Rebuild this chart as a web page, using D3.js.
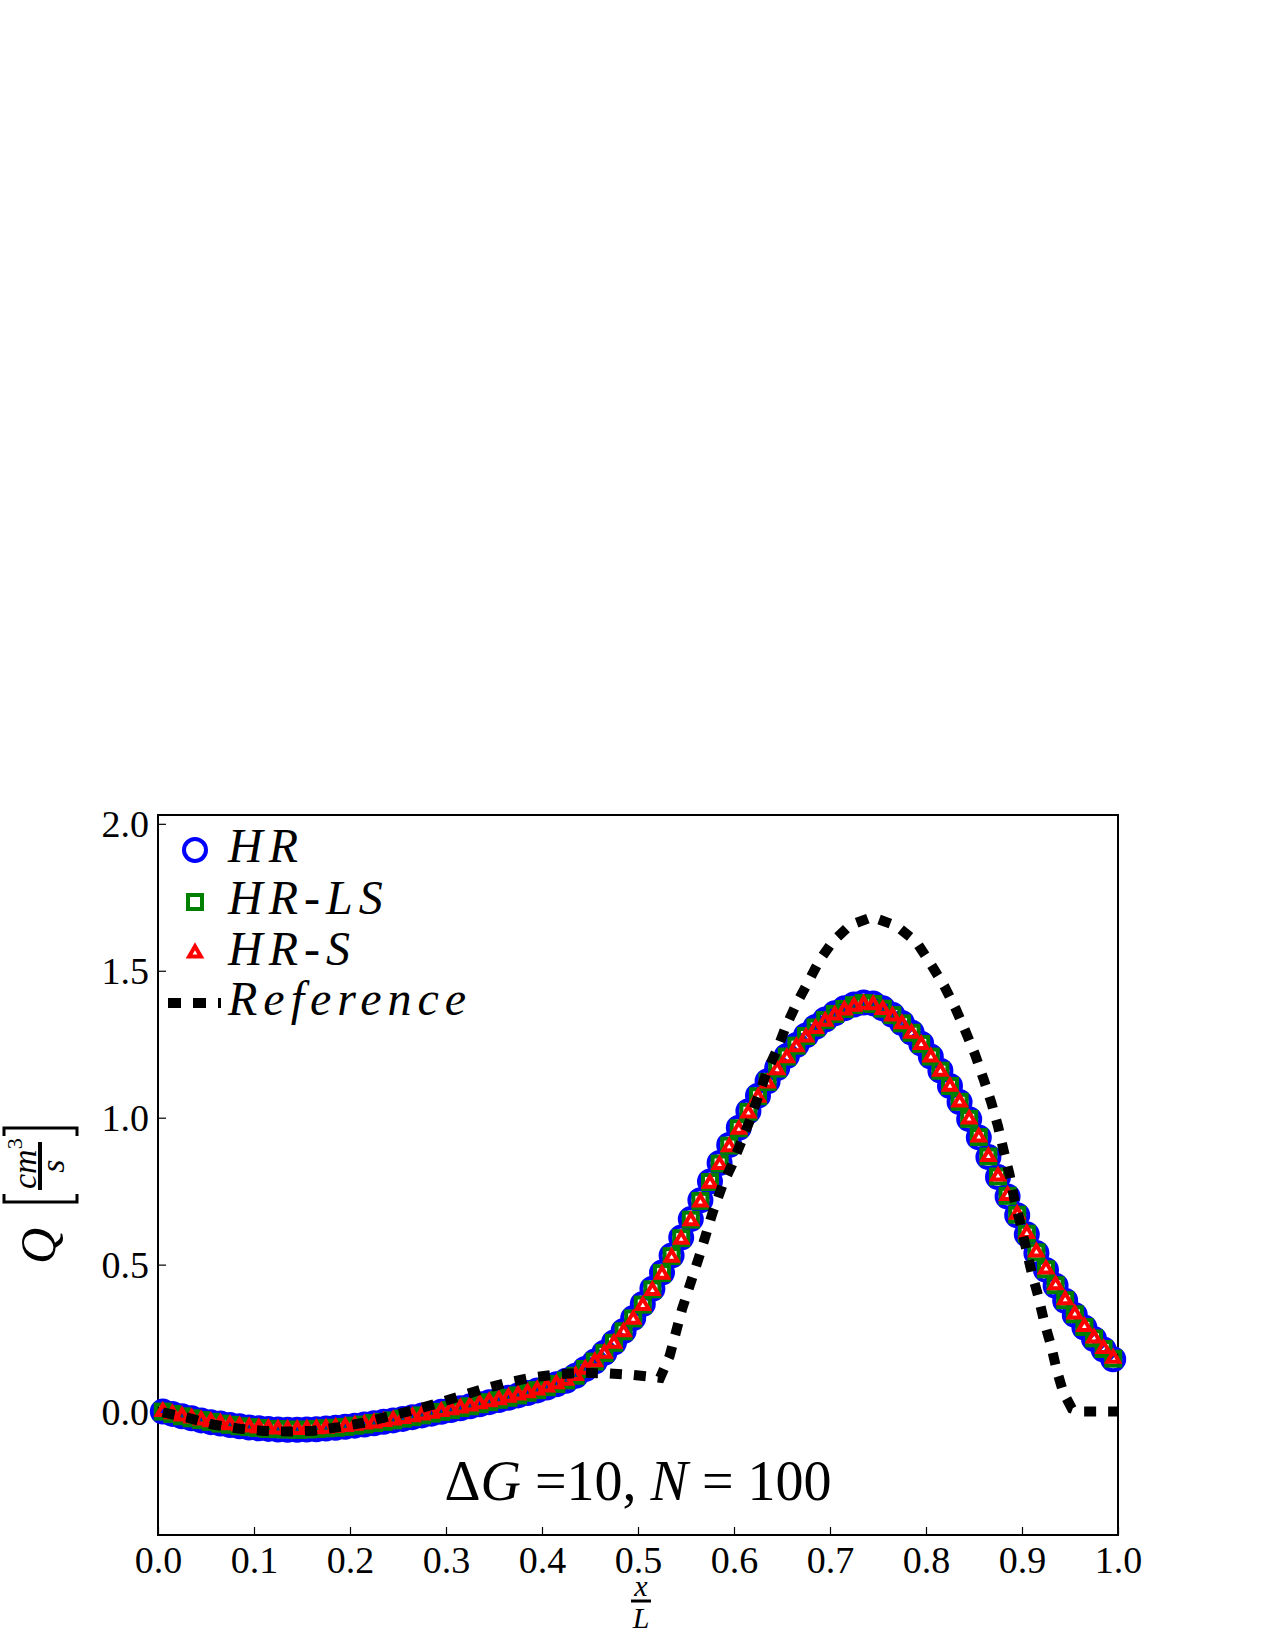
<!DOCTYPE html>
<html>
<head>
<meta charset="utf-8">
<script src="https://cdn.jsdelivr.net/npm/d3@7"></script>
<style>
  body { margin: 0; background: #fff; }
  svg text { font-family: "Liberation Serif", "DejaVu Serif", serif; fill: #000; }
</style>
</head>
<body>
<svg id="chart" width="1275" height="1650"></svg>
<script>
//Data (N = 100 cells, values at cell centres)
var nCells = 100;
var xTicks = [0.0, 0.1, 0.2, 0.3, 0.4, 0.5, 0.6, 0.7, 0.8, 0.9, 1.0];
var yTicks = [0.0, 0.5, 1.0, 1.5, 2.0];
var seriesNames = ["HR", "HR-LS", "HR-S", "Reference"];

var hrQ = [
  0.000, -0.008, -0.016, -0.023, -0.030, -0.036, -0.041, -0.046, -0.050, -0.054,
  -0.057, -0.059, -0.061, -0.062, -0.062, -0.061, -0.060, -0.058, -0.055, -0.052,
  -0.048, -0.044, -0.040, -0.035, -0.030, -0.025, -0.019, -0.013, -0.007, -0.001,
  0.005, 0.011, 0.018, 0.025, 0.032, 0.039, 0.047, 0.055, 0.063, 0.072,
  0.082, 0.093, 0.105, 0.122, 0.145, 0.170, 0.200, 0.235, 0.274, 0.318,
  0.366, 0.418, 0.473, 0.531, 0.592, 0.655, 0.719, 0.783, 0.846, 0.907,
  0.966, 1.022, 1.075, 1.124, 1.169, 1.210, 1.247, 1.280, 1.309, 1.334,
  1.355, 1.372, 1.385, 1.392, 1.389, 1.372, 1.350, 1.322, 1.290, 1.252,
  1.208, 1.160, 1.108, 1.053, 0.995, 0.933, 0.866, 0.798, 0.732, 0.668,
  0.603, 0.540, 0.482, 0.428, 0.377, 0.329, 0.286, 0.247, 0.211, 0.178
];
var hrLsQ = [
  0.000, -0.008, -0.016, -0.023, -0.029, -0.035, -0.041, -0.045, -0.050, -0.053,
  -0.056, -0.059, -0.060, -0.061, -0.062, -0.061, -0.059, -0.057, -0.055, -0.052,
  -0.048, -0.044, -0.039, -0.035, -0.030, -0.024, -0.019, -0.013, -0.007, -0.001,
  0.005, 0.012, 0.018, 0.025, 0.032, 0.040, 0.047, 0.055, 0.064, 0.073,
  0.083, 0.094, 0.106, 0.122, 0.145, 0.170, 0.199, 0.234, 0.273, 0.317,
  0.364, 0.416, 0.471, 0.529, 0.590, 0.653, 0.717, 0.781, 0.844, 0.905,
  0.964, 1.020, 1.073, 1.122, 1.167, 1.208, 1.245, 1.278, 1.307, 1.332,
  1.353, 1.370, 1.383, 1.390, 1.387, 1.371, 1.349, 1.321, 1.289, 1.251,
  1.208, 1.160, 1.108, 1.054, 0.996, 0.934, 0.868, 0.800, 0.734, 0.670,
  0.605, 0.542, 0.484, 0.430, 0.379, 0.331, 0.288, 0.249, 0.213, 0.180
];
var hrSQ = [
  0.000, -0.008, -0.015, -0.022, -0.029, -0.035, -0.040, -0.045, -0.049, -0.053,
  -0.056, -0.058, -0.060, -0.061, -0.061, -0.060, -0.059, -0.057, -0.054, -0.051,
  -0.047, -0.043, -0.039, -0.034, -0.029, -0.024, -0.018, -0.012, -0.006, 0.000,
  0.006, 0.012, 0.019, 0.026, 0.033, 0.040, 0.048, 0.056, 0.064, 0.073,
  0.083, 0.094, 0.106, 0.122, 0.144, 0.169, 0.198, 0.232, 0.271, 0.314,
  0.361, 0.412, 0.467, 0.525, 0.586, 0.649, 0.713, 0.777, 0.840, 0.901,
  0.960, 1.016, 1.069, 1.118, 1.163, 1.204, 1.241, 1.274, 1.303, 1.328,
  1.349, 1.366, 1.379, 1.386, 1.384, 1.368, 1.346, 1.319, 1.287, 1.249,
  1.206, 1.158, 1.107, 1.053, 0.995, 0.934, 0.868, 0.801, 0.735, 0.671,
  0.606, 0.543, 0.485, 0.431, 0.380, 0.332, 0.289, 0.250, 0.214, 0.181
];

var refX = [0.005, 0.030, 0.057, 0.084, 0.110, 0.136, 0.162, 0.188, 0.214, 0.238,
  0.264, 0.290, 0.314, 0.340, 0.364, 0.390, 0.416, 0.442, 0.468, 0.494,
  0.515, 0.523, 0.533, 0.546, 0.564, 0.578, 0.588, 0.598, 0.617, 0.634,
  0.645, 0.654, 0.665, 0.677, 0.689, 0.703, 0.721, 0.744, 0.769, 0.790,
  0.805, 0.819, 0.831, 0.841, 0.851, 0.860, 0.868, 0.875, 0.881, 0.887,
  0.892, 0.898, 0.904, 0.910, 0.917, 0.923, 0.930, 0.936, 0.943, 0.952,
  0.960, 1.000];
var refQ = [-0.003, -0.020, -0.044, -0.058, -0.066, -0.068, -0.065, -0.053, -0.038, -0.018,
  0.003, 0.027, 0.052, 0.078, 0.099, 0.116, 0.127, 0.132, 0.130, 0.125,
  0.118, 0.115, 0.190, 0.350, 0.530, 0.680, 0.770, 0.840, 0.995, 1.155,
  1.233, 1.310, 1.387, 1.460, 1.535, 1.600, 1.655, 1.683, 1.653, 1.598,
  1.523, 1.448, 1.370, 1.295, 1.216, 1.131, 1.052, 0.971, 0.886, 0.807,
  0.722, 0.644, 0.559, 0.474, 0.392, 0.307, 0.228, 0.143, 0.065, 0.010,
  0.000, 0.000];

//cell centres of the N = 100 grid
var cellX = d3.range(nCells).map(function(i) { return (i + 0.5) / nCells; });

var svg = d3.select("#chart");
var plotLeft = 158, plotRight = 1118, plotTop = 815, plotBottom = 1535;
var xScale = d3.scaleLinear().domain([0, 1]).range([plotLeft, plotRight]);
var yScale = d3.scaleLinear().domain([-0.42, 2.03]).range([plotBottom, plotTop]);

function drawAxes() {
    var xAxis = d3.axisBottom(xScale).tickValues(xTicks).tickSizeInner(-8).tickSizeOuter(0)
        .tickFormat(d3.format(".1f"));
    var gx = svg.append("g").attr("transform", "translate(0," + plotBottom + ")").call(xAxis);
    gx.select(".domain").remove();
    gx.selectAll("line").attr("stroke", "#000").attr("stroke-width", 1.2);
    gx.selectAll("text").attr("y", 38).attr("dy", 0).attr("font-size", 38)
        .style("font-family", "'Liberation Serif', serif");

    var yAxis = d3.axisLeft(yScale).tickValues(yTicks).tickSizeInner(-8).tickSizeOuter(0)
        .tickFormat(d3.format(".1f"));
    var gy = svg.append("g").attr("transform", "translate(" + plotLeft + ",0)").call(yAxis);
    gy.select(".domain").remove();
    gy.selectAll("line").attr("stroke", "#000").attr("stroke-width", 1.2);
    gy.selectAll("text").attr("x", -9).attr("dy", "0.34em").attr("font-size", 38)
        .style("font-family", "'Liberation Serif', serif");

    svg.append("rect").attr("x", plotLeft).attr("y", plotTop)
        .attr("width", plotRight - plotLeft).attr("height", plotBottom - plotTop)
        .attr("fill", "none").attr("stroke", "#000").attr("stroke-width", 2);
}

function drawSeries() {
    var plot = svg.append("g");

    plot.selectAll("circle.hr").data(hrQ).enter().append("circle")
        .attr("class", "hr")
        .attr("cx", function(d, i) { return xScale(cellX[i]); })
        .attr("cy", function(d) { return yScale(d); })
        .attr("r", 11).attr("fill", "none").attr("stroke", "#0000ff").attr("stroke-width", 4);

    plot.selectAll("rect.hrls").data(hrLsQ).enter().append("rect")
        .attr("class", "hrls")
        .attr("x", function(d, i) { return xScale(cellX[i]) - 7; })
        .attr("y", function(d) { return yScale(d) - 7; })
        .attr("width", 14).attr("height", 14)
        .attr("fill", "none").attr("stroke", "#008000").attr("stroke-width", 4);

    var tri = d3.symbol().type(d3.symbolTriangle).size(60);
    plot.selectAll("path.hrs").data(hrSQ).enter().append("path")
        .attr("class", "hrs")
        .attr("d", tri)
        .attr("transform", function(d, i) { return "translate(" + xScale(cellX[i]) + "," + yScale(d) + ")"; })
        .attr("fill", "none").attr("stroke", "#ff0000").attr("stroke-width", 4);

    var line = d3.line()
        .x(function(d) { return xScale(d[0]); })
        .y(function(d) { return yScale(d[1]); });
    plot.append("path")
        .datum(d3.zip(refX, refQ))
        .attr("d", line)
        .attr("fill", "none").attr("stroke", "#000").attr("stroke-width", 10)
        .attr("stroke-dasharray", "12,12");
}

function drawLegend() {
    var lg = svg.append("g");
    var rows = [850, 902, 953, 1003];
    var mx = 195;
    lg.append("circle").attr("cx", mx).attr("cy", rows[0]).attr("r", 11)
        .attr("fill", "none").attr("stroke", "#0000ff").attr("stroke-width", 4);
    lg.append("rect").attr("x", mx - 7).attr("y", rows[1] - 7).attr("width", 14).attr("height", 14)
        .attr("fill", "none").attr("stroke", "#008000").attr("stroke-width", 4);
    lg.append("path").attr("d", d3.symbol().type(d3.symbolTriangle).size(60))
        .attr("transform", "translate(" + mx + "," + rows[2] + ")")
        .attr("fill", "none").attr("stroke", "#ff0000").attr("stroke-width", 4);
    lg.append("line").attr("x1", 168).attr("x2", 221).attr("y1", rows[3]).attr("y2", rows[3])
        .attr("stroke", "#000").attr("stroke-width", 10).attr("stroke-dasharray", "13,12");

    lg.selectAll("text").data(seriesNames).enter().append("text")
        .attr("x", 228)
        .attr("y", function(d, i) { return rows[i] + 12; })
        .attr("font-size", 48)
        .attr("font-style", "italic")
        .attr("letter-spacing", 6)
        .text(function(d) { return d; });
}

function drawLabels() {
    //y label: Q [cm^3 / s], rotated
    var yl = svg.append("g").attr("transform", "translate(40,1190) rotate(-90)");
    yl.append("text").attr("x", -74).attr("y", 15).attr("font-size", 50)
        .attr("font-style", "italic").text("Q");
    yl.append("path").attr("d", "M-4,-36 L-12,-36 L-12,37 L-4,37")
        .attr("fill", "none").attr("stroke", "#000").attr("stroke-width", 3);
    yl.append("path").attr("d", "M54,-36 L62,-36 L62,37 L54,37")
        .attr("fill", "none").attr("stroke", "#000").attr("stroke-width", 3);
    yl.append("line").attr("x1", 0).attr("x2", 48).attr("y1", 0).attr("y2", 0)
        .attr("stroke", "#000").attr("stroke-width", 4);
    var num = yl.append("text").attr("x", 1).attr("y", -4).attr("font-size", 34).attr("font-style", "italic");
    num.append("tspan").text("cm");
    num.append("tspan").attr("dy", -14).attr("font-size", 22).attr("font-style", "normal").text("3");
    yl.append("text").attr("x", 24).attr("y", 24).attr("text-anchor", "middle")
        .attr("font-size", 34).attr("font-style", "italic").text("s");

    //x label: x / L
    var cx = xScale(0.5) + 3;
    svg.append("text").attr("x", cx).attr("y", 1596).attr("text-anchor", "middle")
        .attr("font-size", 30).attr("font-style", "italic").text("x");
    svg.append("line").attr("x1", cx - 10).attr("x2", cx + 10).attr("y1", 1601).attr("y2", 1601)
        .attr("stroke", "#000").attr("stroke-width", 3);
    svg.append("text").attr("x", cx).attr("y", 1628).attr("text-anchor", "middle")
        .attr("font-size", 30).attr("font-style", "italic").text("L");

    //annotation
    var ann = svg.append("text").attr("x", xScale(0.5)).attr("y", 1500)
        .attr("text-anchor", "middle").attr("font-size", 56);
    ann.append("tspan").text("\u0394");
    ann.append("tspan").attr("font-style", "italic").text("G");
    ann.append("tspan").text(" =10, ");
    ann.append("tspan").attr("font-style", "italic").text("N");
    ann.append("tspan").text(" = 100");
}

drawAxes();
drawSeries();
drawLegend();
drawLabels();
</script>
</body>
</html>
